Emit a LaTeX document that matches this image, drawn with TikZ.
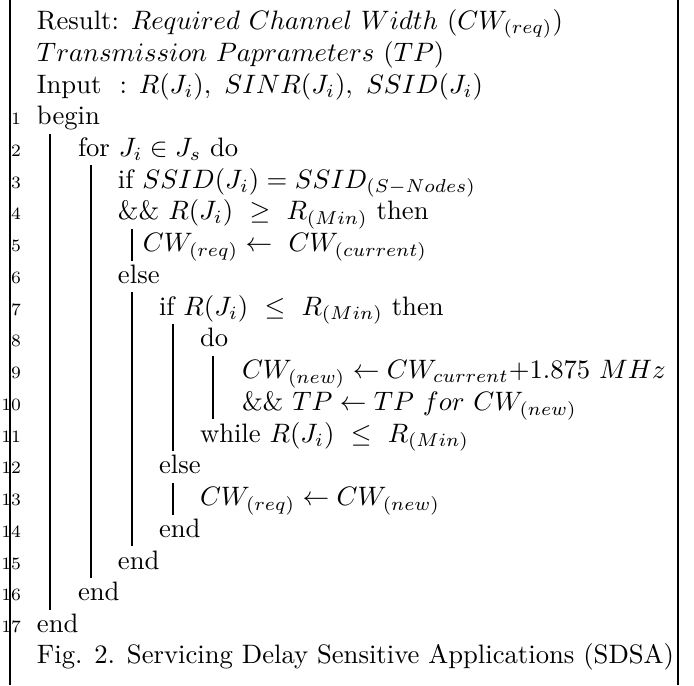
\documentclass[tikz,border=0pt]{standalone}
\usepackage{amsmath}
\begin{document}
\begin{tikzpicture}[x=0.375pt,y=-0.375pt,
  txt/.style={anchor=base west,inner sep=0pt,outer sep=0pt},
  num/.style={anchor=base east,inner sep=0pt,outer sep=0pt,font=\fontsize{6.5}{7}\selectfont},
  bar/.style={line width=0.45pt},
  frame/.style={line width=0.6pt}]
\useasboundingbox (0,0) rectangle (694,685);
% frame sides
\coordinate (fl1) at (10,0); \coordinate (fl2) at (10,685);
\coordinate (fr1) at (678,0); \coordinate (fr2) at (678,685);
\draw[frame] (fl1) -- (fl2);
\draw[frame] (fr1) -- (fr2);
% header
\node[txt] (res) at (37,29) {Result: $Required\ Channel\ Width\ (CW_{(req)})$};
\node[txt] (tp) at (37,61) {$Transmission\ Paprameters\ (TP)$};
\node[txt] (inp) at (37,93) {\makebox[31pt][l]{Input}: $R(J_i),\ SINR(J_i),\ SSID(J_i)$};
% line numbers
\foreach \k in {1,...,17}{
  \node[num] (n\k) at (21,{124.5+31.75*(\k-1)}) {\k};
}
% lines
\node[txt] (l1) at (37,124.5) {begin};
\node[txt] (l2) at (78,156.25) {for $J_i \in J_s$ do};
\node[txt] (l3) at (118,188) {if $SSID(J_i) = SSID_{(S-Nodes)}$};
\node[txt] (l4) at (118,219.75) {\&\& $R(J_i)\ \geq\ R_{(Min)}$ then};
\node[txt] (l5) at (143,251.5) {$CW_{(req)} \leftarrow\ CW_{(current)}$};
\node[txt] (l6) at (118,283.25) {else};
\node[txt] (l7) at (159,315) {if $R(J_i)\ \leq\ R_{(Min)}$ then};
\node[txt] (l8) at (200,346.75) {do};
\node[txt] (l9) at (242,378.5) {$CW_{(new)} \leftarrow CW_{current}$+$1.875\ MHz$};
\node[txt] (l10) at (242,410.25) {\&\& $TP \leftarrow TP\ for\ CW_{(new)}$};
\node[txt] (l11) at (200,442) {while $R(J_i)\ \leq\ R_{(Min)}$};
\node[txt] (l12) at (159,473.75) {else};
\node[txt] (l13) at (200,505.5) {$CW_{(req)} \leftarrow CW_{(new)}$};
\node[txt] (l14) at (159,537.25) {end};
\node[txt] (l15) at (118,569) {end};
\node[txt] (l16) at (78,600.75) {end};
\node[txt] (l17) at (37,632.5) {end};
\node[txt] (cap) at (37,663) {Fig. 2. Servicing Delay Sensitive Applications (SDSA)};
% block bars
\coordinate (b1a) at (50,133.5);   \coordinate (b1b) at (50,610);
\coordinate (b2a) at (91,165.25);  \coordinate (b2b) at (91,578);
\coordinate (b3a) at (132,228.75); \coordinate (b3b) at (132,260.5);
\coordinate (b4a) at (132,292.25); \coordinate (b4b) at (132,546.25);
\coordinate (b5a) at (173,324);    \coordinate (b5b) at (173,451);
\coordinate (b6a) at (213,355.75); \coordinate (b6b) at (213,419.25);
\coordinate (b7a) at (173,482.75); \coordinate (b7b) at (173,514.5);
\foreach \b in {1,...,7}{ \draw[bar] (b\b a) -- (b\b b); }
\end{tikzpicture}
\end{document}
